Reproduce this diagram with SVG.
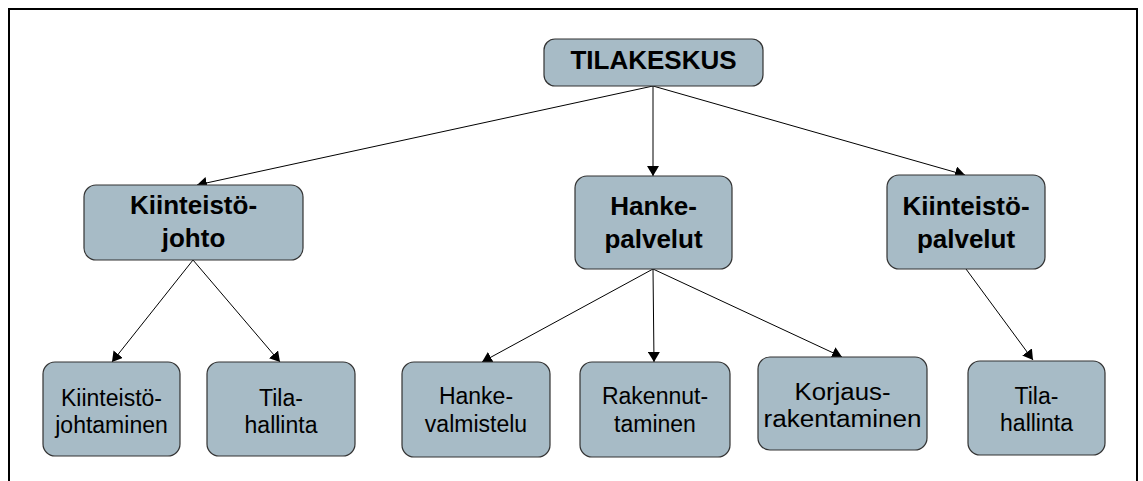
<svg xmlns="http://www.w3.org/2000/svg" width="1143" height="481" viewBox="0 0 1143 481">
<style>
.box{fill:#A7BBC6;stroke:#333;stroke-width:1.2}
.tb{font-family:"Liberation Sans",Arial,sans-serif;font-weight:bold;font-size:26px;fill:#000;text-anchor:middle}
.t{font-family:"Liberation Sans",Arial,sans-serif;font-size:23px;fill:#000;text-anchor:middle}
.c{stroke:#000;stroke-width:1;fill:none;marker-end:url(#ah)}
</style>
<defs>
<marker id="ah" viewBox="0 0 10 12" refX="10" refY="6" markerWidth="10" markerHeight="12" markerUnits="userSpaceOnUse" orient="auto">
<path d="M0,0 L10,6 L0,12 z" fill="#000"/>
</marker>
</defs>
<rect width="1143" height="481" fill="#fff"/>
<path d="M9,481 V9 H1137 V481" fill="none" stroke="#000" stroke-width="2"/>
<g id="connectors">
<line class="c" x1="653" y1="86" x2="197" y2="185"/>
<line class="c" x1="653" y1="86" x2="653" y2="176"/>
<line class="c" x1="653" y1="86" x2="965" y2="175"/>
<line class="c" x1="193" y1="260" x2="112" y2="362"/>
<line class="c" x1="193" y1="260" x2="280" y2="362"/>
<line class="c" x1="653" y1="269" x2="482" y2="362"/>
<line class="c" x1="653" y1="269" x2="654" y2="362"/>
<line class="c" x1="653" y1="269" x2="842" y2="357"/>
<line class="c" x1="966" y1="269" x2="1033" y2="360"/>
</g>
<g id="tilakeskus">
<rect class="box" x="544" y="39" width="219" height="47" rx="11"/>
<text class="tb" x="653.5" y="69">TILAKESKUS</text>
</g>
<g id="kiinteistojohto">
<rect class="box" x="84" y="185" width="219" height="75" rx="12"/>
<text class="tb" x="193.5" y="214">Kiinteistö-</text>
<text class="tb" x="193.5" y="247">johto</text>
</g>
<g id="hankepalvelut">
<rect class="box" x="575" y="176" width="157" height="93" rx="12"/>
<text class="tb" x="653.5" y="215">Hanke-</text>
<text class="tb" x="653.5" y="248">palvelut</text>
</g>
<g id="kiinteistopalvelut">
<rect class="box" x="887" y="175" width="158" height="94" rx="12"/>
<text class="tb" x="966" y="215">Kiinteistö-</text>
<text class="tb" x="966" y="248">palvelut</text>
</g>
<g id="kiinteistojohtaminen">
<rect class="box" x="43" y="362" width="137" height="94" rx="12"/>
<text class="t" x="111.5" y="406">Kiinteistö-</text>
<text class="t" x="111.5" y="433">johtaminen</text>
</g>
<g id="tilahallinta1">
<rect class="box" x="207" y="362" width="148" height="94" rx="12"/>
<text class="t" x="281" y="406">Tila-</text>
<text class="t" x="281" y="433">hallinta</text>
</g>
<g id="hankevalmistelu">
<rect class="box" x="402" y="362" width="148" height="95" rx="12"/>
<text class="t" x="476" y="404">Hanke-</text>
<text class="t" x="476" y="432">valmistelu</text>
</g>
<g id="rakennuttaminen">
<rect class="box" x="580" y="362" width="150" height="95" rx="12"/>
<text class="t" x="655" y="404">Rakennut-</text>
<text class="t" x="655" y="432">taminen</text>
</g>
<g id="korjausrakentaminen">
<rect class="box" x="758" y="357" width="169" height="93" rx="12"/>
<text class="t" x="842.5" y="400" textLength="96" lengthAdjust="spacingAndGlyphs">Korjaus-</text>
<text class="t" x="842.5" y="427" textLength="158" lengthAdjust="spacingAndGlyphs">rakentaminen</text>
</g>
<g id="tilahallinta2">
<rect class="box" x="968" y="361" width="137" height="94" rx="12"/>
<text class="t" x="1036.5" y="404">Tila-</text>
<text class="t" x="1036.5" y="431">hallinta</text>
</g>
</svg>
